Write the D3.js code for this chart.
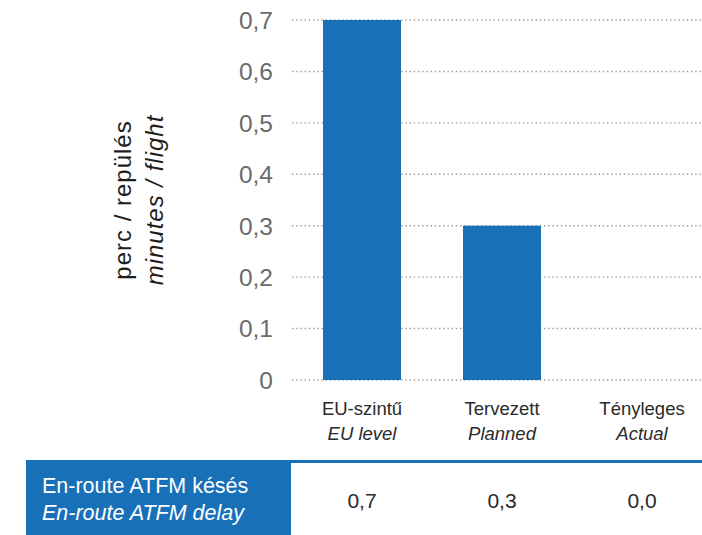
<!DOCTYPE html>
<html>
<head>
<meta charset="utf-8">
<script src="https://cdn.jsdelivr.net/npm/d3@7"></script>
<style>
  html, body { margin: 0; padding: 0; background: #fff; }
  svg { display: block; font-family: "Liberation Sans", Arial, sans-serif; }
</style>
</head>
<body>
<svg id="chart" width="702" height="535"></svg>
<script>
// Category labels (Hungarian / English) and en-route ATFM delay values
const categoriesHu = ["EU-szintű", "Tervezett", "Tényleges"];
const categoriesEn = ["EU level", "Planned", "Actual"];
const delayValues = [0.7, 0.3, 0.0];
const yTicks = [0, 0.1, 0.2, 0.3, 0.4, 0.5, 0.6, 0.7];
const axisTitle = ["perc / repülés", "minutes / flight"];
const rowTitle = ["En-route ATFM késés", "En-route ATFM delay"];

const blue = "#1870b8";
const svg = d3.select("#chart");

const decComma = v => d3.format(".1f")(v).replace(".", ",");
const tickFmt = v => v === 0 ? "0" : decComma(v);

const y = d3.scaleLinear().domain([0, 0.7]).range([380, 20]);
const x = d3.scaleBand().domain(categoriesHu).range([292, 712])
  .paddingInner(0.443).paddingOuter(0.2215);

// dotted gridlines
svg.append("g").selectAll("line").data(yTicks).join("line")
  .attr("x1", 292).attr("x2", 702)
  .attr("y1", d => y(d)).attr("y2", d => y(d))
  .attr("stroke", "#9a9a9a").attr("stroke-width", 1.4)
  .attr("stroke-dasharray", "1.4,2.8");

// y tick labels
svg.append("g").selectAll("text").data(yTicks).join("text")
  .attr("x", 273).attr("y", d => y(d)).attr("dy", "0.36em")
  .attr("text-anchor", "end").attr("font-size", 24.5).attr("fill", "#6b6b6b")
  .text(tickFmt);

// bars
svg.append("g").selectAll("rect").data(delayValues).join("rect")
  .attr("x", (d, i) => x(categoriesHu[i]))
  .attr("width", x.bandwidth())
  .attr("y", d => y(d))
  .attr("height", d => y(0) - y(d))
  .attr("fill", blue);

// category labels
const cat = svg.append("g").selectAll("g").data(categoriesHu).join("g")
  .attr("transform", d => `translate(${x(d) + x.bandwidth() / 2},0)`);
cat.append("text").attr("y", 415).attr("text-anchor", "middle")
  .attr("font-size", 18.5).attr("fill", "#2a2a2a").text(d => d);
cat.append("text").attr("y", 440).attr("text-anchor", "middle")
  .attr("font-size", 18.5).attr("font-style", "italic").attr("fill", "#2a2a2a")
  .text((d, i) => categoriesEn[i]);

// y axis title
const title = svg.append("g").attr("transform", "translate(0,200) rotate(-90)");
title.append("text").attr("x", 0).attr("y", 131).attr("text-anchor", "middle")
  .attr("font-size", 24).attr("letter-spacing", 1).attr("fill", "#1e1e1e").text(axisTitle[0]);
title.append("text").attr("x", 0).attr("y", 163).attr("text-anchor", "middle")
  .attr("font-size", 24).attr("letter-spacing", 1).attr("font-style", "italic")
  .attr("fill", "#1e1e1e").text(axisTitle[1]);

// data table row
svg.append("rect").attr("x", 26).attr("y", 460).attr("width", 265).attr("height", 75).attr("fill", blue);
svg.append("rect").attr("x", 291).attr("y", 460).attr("width", 411).attr("height", 3).attr("fill", blue);
svg.append("text").attr("x", 42).attr("y", 493).attr("font-size", 21.5).attr("fill", "#fff").text(rowTitle[0]);
svg.append("text").attr("x", 42).attr("y", 520).attr("font-size", 21.5).attr("font-style", "italic")
  .attr("fill", "#fff").text(rowTitle[1]);

svg.append("g").selectAll("text").data(delayValues).join("text")
  .attr("x", (d, i) => x(categoriesHu[i]) + x.bandwidth() / 2)
  .attr("y", 508).attr("text-anchor", "middle")
  .attr("font-size", 21).attr("fill", "#2a2a2a")
  .text(decComma);
</script>
</body>
</html>
